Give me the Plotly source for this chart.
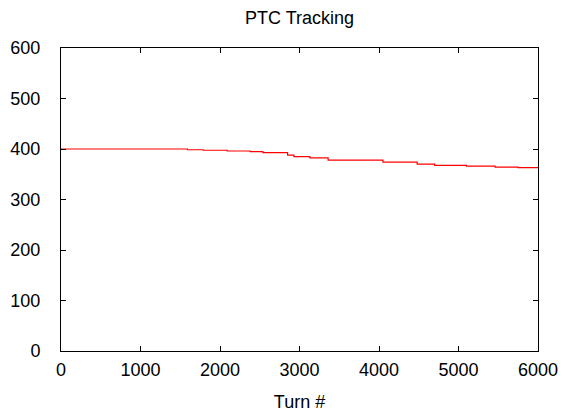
import plotly.graph_objects as go

turns = [0, 1590, 1790, 2090, 2380, 2540, 2850, 2930, 3130, 3360, 4050, 4480, 4700, 5100, 5460, 5750, 6000]
values = [400, 398.5, 397.5, 396, 395, 393, 388, 385, 382.5, 378, 374, 370, 367.5, 366, 364, 363, 363]

x_ticks = [0, 1000, 2000, 3000, 4000, 5000, 6000]
y_ticks = [0, 100, 200, 300, 400, 500, 600]

fig = go.Figure()
fig.add_trace(go.Scatter(x=turns, y=values, mode="lines", line=dict(color="red", width=1.2, shape="hv"),
                         showlegend=False))

font = dict(family="Liberation Sans, Arial, sans-serif", size=18, color="black")
axis_common = dict(showline=True, linecolor="black", linewidth=1, mirror="ticks", ticks="inside",
                   ticklen=5, tickcolor="black", showgrid=False, zeroline=False, tickfont=font,
                   automargin=False)

fig.update_layout(
    width=564, height=412,
    margin=dict(l=61, r=26, t=48, b=61),
    paper_bgcolor="white", plot_bgcolor="white",
    font=font,
    title=dict(text="PTC Tracking", x=0.531, xanchor="center", y=0.958, yanchor="middle", font=font),
    xaxis=dict(range=[0, 6000], tickvals=x_ticks, ticklabelstandoff=2,
               title=dict(text="Turn #", font=font, standoff=16), **axis_common),
    yaxis=dict(range=[0, 600], tickvals=y_ticks, ticklabelstandoff=16, **axis_common),
)

fig.write_html("out.html")
